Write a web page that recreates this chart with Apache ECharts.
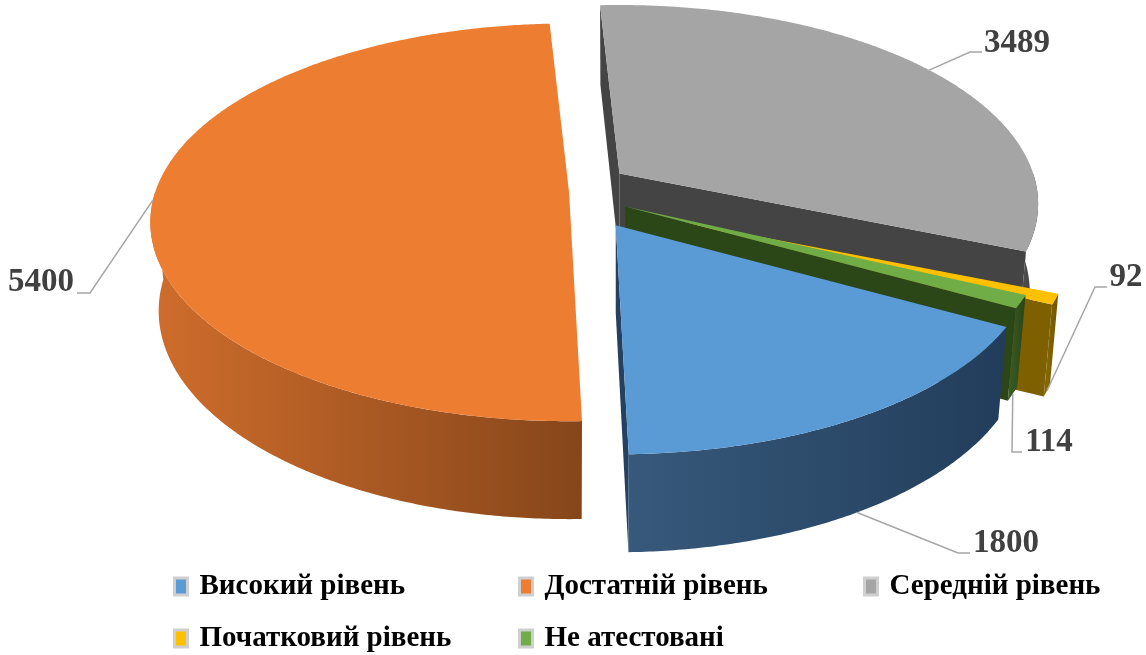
<!DOCTYPE html>
<html>
<head>
<meta charset="utf-8">
<script src="https://cdn.jsdelivr.net/npm/echarts@6/dist/echarts.min.js"></script>
<style>
html, body { margin: 0; padding: 0; background: #fff; }
#chart { width: 1146px; height: 655px; }
</style>
</head>
<body>
<div id="chart"></div>
<script>
const categories = ['Високий рівень', 'Достатній рівень', 'Середній рівень', 'Початковий рівень', 'Не атестовані'];
const values = [1800, 5400, 3489, 92, 114];

// top face / side wall (light→dark) / cut face colours
const topColors = ['#5B9BD5', '#ED7D31', '#A5A5A5', '#FFC000', '#70AD47'];
const sideColors = [['#37597b', '#223d5b'], ['#cf6d2c', '#86461a'], ['#525252', '#3d3d3d'], ['#8a6a00', '#725600'], ['#3b5e25', '#2a4418']];
const cutColors = ['#24415f', '#8a4a1c', '#444444', '#7f6000', '#2b4617'];
const explode = [40, 26, 30, 62, 34];

// label layout (px): text centre, leader elbow, leader end, anchor on wall bottom?
const labelPos = [[1006, 543], [41, 282], [1017, 43], [1126, 277], [1049, 442]];
const leaderElbow = [[958, 553], [90, 293], [970, 52], [1095, 287], [1012, 452]];
const leaderEnd = [[970, 553], [77, 293], [982, 52], [1107, 287], [1022, 452]];
const onWall = [true, false, false, true, true];

// view (simple perspective on a tilted disc)
const cx = 595, cy = 191, F = 2400, D = 5.8, H = 0.245;
const tilt = 28 * Math.PI / 180;
const firstAngle = 119;

function proj(theta, r, z, off) {
    const t = theta * Math.PI / 180;
    const x = r * Math.sin(t), y = r * Math.cos(t);
    const s = Math.sin(tilt), c = Math.cos(tilt);
    const depth = D + y * c - z * s;
    return [cx + F * x / depth + off[0], cy - F * (y * s + z * c) / depth + off[1]];
}

const total = values.reduce((a, b) => a + b, 0);
let acc = firstAngle;
const slices = values.map((v, i) => {
    const a0 = acc, a1 = acc + v / total * 360;
    acc = a1;
    const mid = (a0 + a1) / 2 * Math.PI / 180;
    return { a0, a1, mid, off: [explode[i] * Math.sin(mid), -explode[i] * Math.cos(mid)] };
});

function rim(a0, a1, z, off) {
    const pts = [];
    const n = Math.max(2, Math.ceil((a1 - a0) / 0.5));
    for (let k = 0; k <= n; k++) pts.push(proj(a0 + (a1 - a0) * k / n, 1, z, off));
    return pts;
}

function sliceShapes(i) {
    const { a0, a1, off } = slices[i];
    const kids = [];
    // radial cut faces, only the ones turned to the viewer
    [[a0, -1], [a1, 1]].forEach(([a, sgn]) => {
        const t = a * Math.PI / 180;
        const nx = sgn * Math.cos(t), ny = -sgn * Math.sin(t);
        const vx = -0.5 * Math.sin(t), vy = -D * Math.cos(tilt) - 0.5 * Math.cos(t);
        if (nx * vx + ny * vy > 0) {
            kids.push({
                type: 'polygon',
                shape: { points: [proj(a, 0, 0, off), proj(a, 1, 0, off), proj(a, 1, -H, off), proj(a, 0, -H, off)] },
                style: { fill: cutColors[i] }
            });
        }
    });
    // outer wall (front half)
    [[90, 270], [450, 630]].forEach(([lo, hi]) => {
        const s = Math.max(lo, a0), e = Math.min(hi, a1);
        if (e > s) {
            const pts = rim(s, e, 0, off).concat(rim(s, e, -H, off).reverse());
            const xs = pts.map(p => p[0]);
            kids.push({
                type: 'polygon',
                shape: { points: pts },
                style: {
                    fill: new echarts.graphic.LinearGradient(Math.min(...xs), 0, Math.max(...xs), 0, [
                        { offset: 0, color: sideColors[i][0] },
                        { offset: 1, color: sideColors[i][1] }
                    ], true)
                }
            });
        }
    });
    // top face
    kids.push({
        type: 'polygon',
        shape: { points: [proj(a0, 0, 0, off)].concat(rim(a0, a1, 0, off)) },
        style: { fill: topColors[i] }
    });
    return kids;
}

// back slices first
const rank = slices.map((s, i) => i).sort((a, b) => Math.cos(slices[b].mid) - Math.cos(slices[a].mid));

const seriesData = categories.map((name, i) => ({
    type: 'custom',
    name: name,
    coordinateSystem: 'none',
    silent: true,
    z: 2 + rank.indexOf(i),
    data: [values[i]],
    renderItem: function () {
        return { type: 'group', children: sliceShapes(i) };
    }
}));

// data labels with leader lines
seriesData.push({
    type: 'custom',
    name: 'labels',
    coordinateSystem: 'none',
    silent: true,
    z: 50,
    data: values,
    renderItem: function (params, api) {
        const i = params.dataIndex;
        const s = slices[i];
        const start = proj(s.mid * 180 / Math.PI, 1, onWall[i] ? -H : 0, s.off);
        return {
            type: 'group',
            children: [
                {
                    type: 'polyline',
                    shape: { points: [start, leaderElbow[i], leaderEnd[i]] },
                    style: { stroke: '#a6a6a6', lineWidth: 1.5, fill: null }
                },
                {
                    type: 'text',
                    x: labelPos[i][0],
                    y: labelPos[i][1],
                    style: {
                        text: String(api.value(0)),
                        fill: '#404040',
                        fontSize: 33,
                        fontWeight: 'bold',
                        fontFamily: '"Liberation Serif", "Times New Roman", serif',
                        align: 'center',
                        verticalAlign: 'middle'
                    }
                }
            ]
        };
    }
});

const chart = echarts.init(document.getElementById('chart'));
chart.setOption({
    animation: false,
    color: topColors,
    legend: categories.map((name, i) => ({
        data: [name],
        left: 168 + (i % 3) * 345,
        top: 567 + Math.floor(i / 3) * 52,
        icon: 'rect',
        itemWidth: 13,
        itemHeight: 17,
        itemGap: 0,
        selectedMode: false,
        itemStyle: { borderColor: '#cfcfcf', borderWidth: 3 },
        textStyle: {
            fontFamily: '"Liberation Serif", "Times New Roman", serif',
            fontWeight: 'bold',
            fontSize: 29,
            color: '#000',
            padding: [0, 0, 0, 7]
        }
    })),
    series: seriesData
});
window.addEventListener('resize', function () {
    chart.resize();
});
</script>
</body>
</html>
